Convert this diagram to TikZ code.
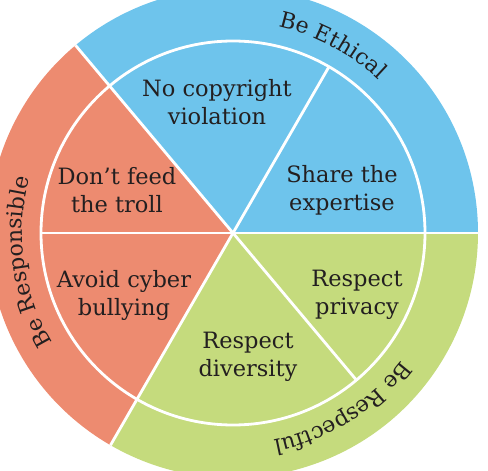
\documentclass[tikz,border=0pt]{standalone}
\usepackage{fontspec}
\setmainfont{DejaVu Serif}
\usetikzlibrary{decorations.text}
\definecolor{ethic}{RGB}{110,196,236}
\definecolor{respons}{RGB}{237,139,112}
\definecolor{respect}{RGB}{197,219,125}
\definecolor{ink}{RGB}{35,31,32}
\newcommand{\rimfont}{\fontsize{22}{26}\selectfont}
\begin{document}
\begin{tikzpicture}[x=1pt, y=1pt,
    t/.style={align=center, text=ink, font=\fontsize{22.5}{28}\selectfont},
    sep/.style={draw=white, line width=2.8pt},
    rim/.style={decorate, decoration={text along path, text align=center,
        text color=ink, text={|\rimfont|#1}}}]
  \useasboundingbox (-233,-238) rectangle (255,233);
  \clip (-233,-238) rectangle (255,233);
  \coordinate (o) at (0,0);
  \fill[ethic] (o) -- (0:245) arc[start angle=0, end angle=130, radius=245] -- cycle;
  \fill[respons] (o) -- (130:245) arc[start angle=130, end angle=240, radius=245] -- cycle;
  \fill[respect] (o) -- (240:245) arc[start angle=240, end angle=360, radius=245] -- cycle;
  \draw[sep] (o) circle[radius=192];
  \foreach \a in {0,130,240} \draw[sep] (o) -- (\a:245);
  \foreach \a in {60,180,310} \draw[sep] (o) -- (\a:192);
  \node[t] (copy) at (-16,131) {No copyright\\violation};
  \node[t] (share) at (109,43) {Share the\\expertise};
  \node[t] (troll) at (-116,43) {Don’t feed\\the troll};
  \node[t] (bully) at (-109,-62) {Avoid cyber\\bullying};
  \node[t] (priv) at (124,-62) {Respect\\privacy};
  \node[t] (div) at (15,-124) {Respect\\diversity};
  \path[rim=Be Ethical] (102:211) arc[start angle=102, end angle=22, radius=211];
  \path[rim=Be Responsible] (228:211) arc[start angle=228, end angle=148, radius=211];
  \path[rim=Be Respectful] (-18:211) arc[start angle=-18, end angle=-98, radius=211];
\end{tikzpicture}
\end{document}
